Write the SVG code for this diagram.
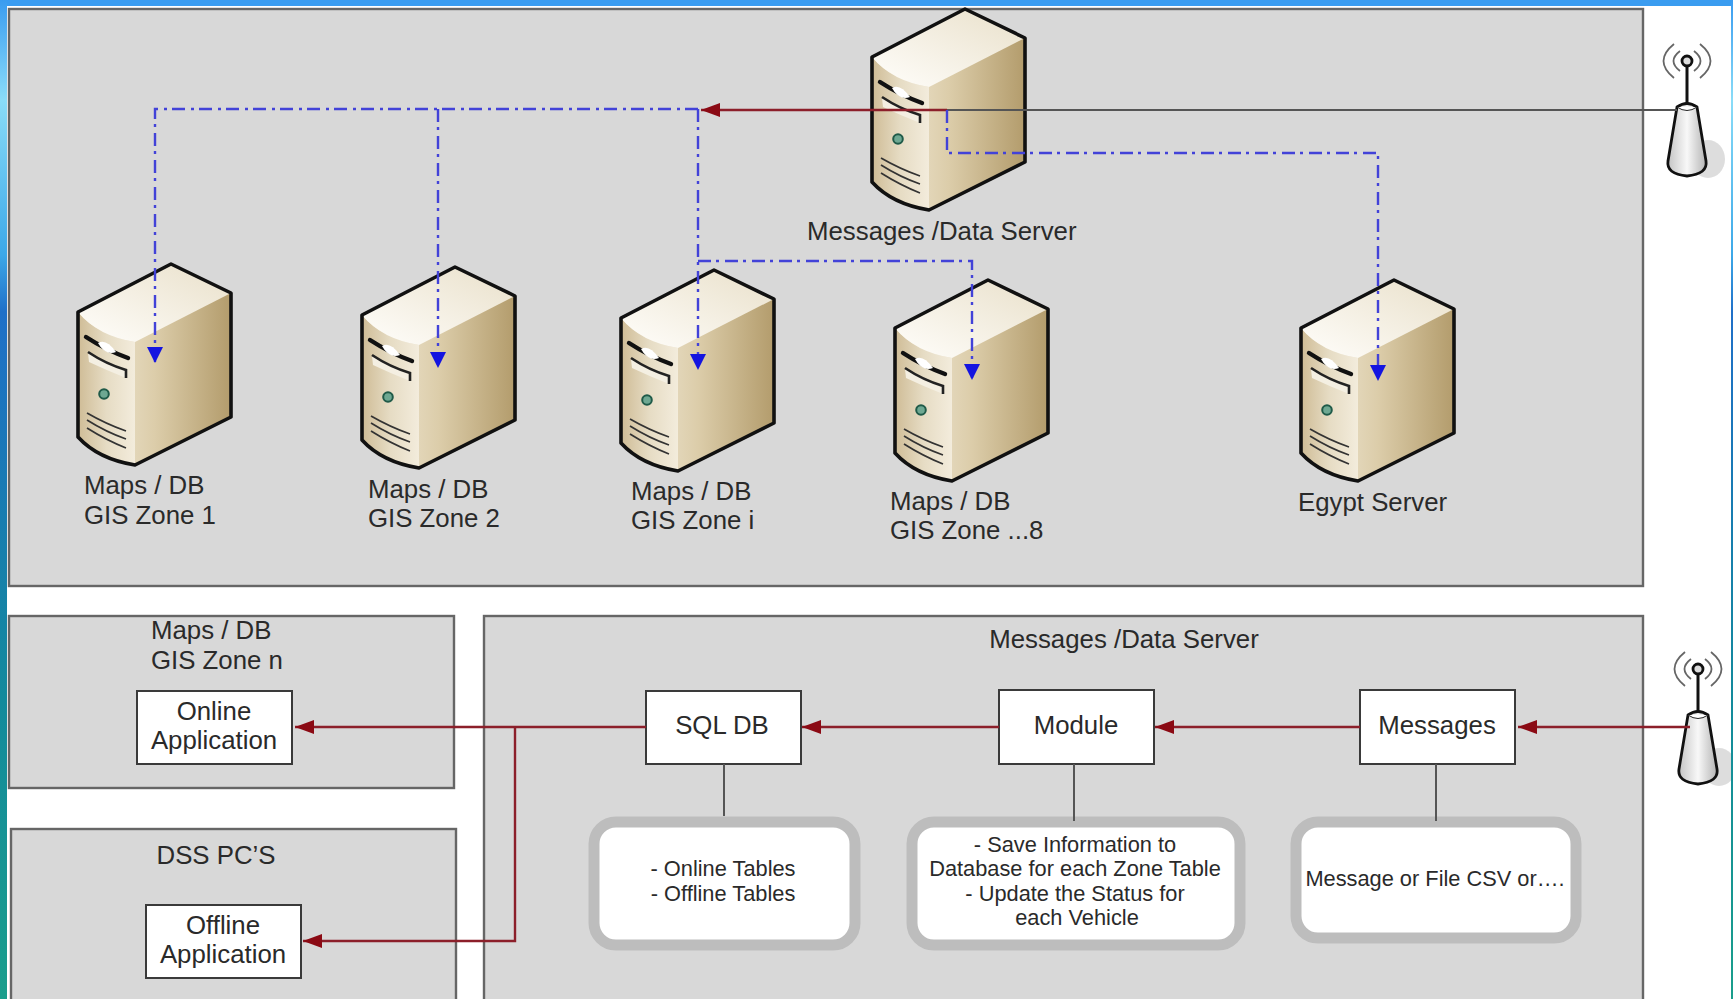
<svg xmlns="http://www.w3.org/2000/svg" xmlns:xlink="http://www.w3.org/1999/xlink" width="1733" height="999" viewBox="0 0 1733 999">
<style>
text{font-family:"Liberation Sans",Arial,sans-serif;fill:#2a2a2a}
.l{font-size:25.8px}.c{text-anchor:middle}.s{font-size:21.8px}
.panel{fill:#d8d8d8;stroke:#666;stroke-width:2.4}
.box{fill:#fff;stroke:#3a3a3a;stroke-width:2}
.note{fill:#fff;stroke:#bdbdbd;stroke-width:11}
.red{fill:none;stroke:#8c1f2a;stroke-width:2.4}
.blue{fill:none;stroke:#4242d8;stroke-width:2.4;stroke-dasharray:13 5 3 6}
.grey{fill:none;stroke:#555;stroke-width:2}
</style>
<defs>
<linearGradient id="bg" x1="0" y1="0" x2="0" y2="1"><stop offset="0" stop-color="#3a9cf0"/><stop offset=".1" stop-color="#8adcf8"/><stop offset=".255" stop-color="#3ca8e8"/><stop offset=".312" stop-color="#2070c8"/><stop offset=".45" stop-color="#1a78b8"/><stop offset=".7" stop-color="#138a9c"/><stop offset="1" stop-color="#1a9e8c"/></linearGradient>
<linearGradient id="side" x1="0" y1="0" x2="1" y2="0"><stop offset="0" stop-color="#f4eee0"/><stop offset=".5" stop-color="#dccdaa"/><stop offset="1" stop-color="#b39c6c"/></linearGradient>
<linearGradient id="front" x1="0" y1="0" x2="1" y2="0"><stop offset="0" stop-color="#cfbc96"/><stop offset=".5" stop-color="#e6dcc4"/><stop offset="1" stop-color="#f3ecdc"/></linearGradient>
<linearGradient id="top" x1="0" y1="1" x2="1" y2="0"><stop offset="0" stop-color="#fffefb"/><stop offset="1" stop-color="#e9e0ca"/></linearGradient>
<linearGradient id="ant" x1="0" y1="0" x2="1" y2="0"><stop offset="0" stop-color="#c4c4c4"/><stop offset=".5" stop-color="#f8f8f8"/><stop offset="1" stop-color="#b4b4b4"/></linearGradient>
<marker id="ar" markerUnits="userSpaceOnUse" markerWidth="20" markerHeight="16" refX="19" refY="7" orient="auto"><path d="M0 0L19 7L0 14Z" fill="#8b0a14"/></marker>
<marker id="ab" markerUnits="userSpaceOnUse" markerWidth="18" markerHeight="18" refX="16" refY="8" orient="auto"><path d="M0 0L16 8L0 16Z" fill="#1414e0"/></marker>
<g id="srv">
<path d="M0 0L93-48L153-19L153 105L57 153Q20 147 0 125Z" fill="url(#side)"/>
<path d="M0 0Q20 24 57 30V153Q20 147 0 125Z" fill="url(#front)"/>
<path d="M0 0L93-48L153-19L57 30Q20 24 0 0Z" fill="url(#top)"/>
<path d="M0 0L93-48L153-19L153 105L57 153Q20 147 0 125Z" fill="none" stroke="#111" stroke-width="3.6" stroke-linejoin="round"/>
<path d="M8 25Q28 38 50 46" fill="none" stroke="#111" stroke-width="4.4" stroke-linecap="round"/>
<path d="M10 41Q28 52 48 58V66Q28 58 11 50Z" fill="#f4efe2"/>
<path d="M10 40Q28 52 48 58V66" fill="none" stroke="#222" stroke-width="2.6"/>
<path d="M20 31Q28 26 38 40Q27 44 20 31Z" fill="#fff"/>
<circle cx="26" cy="82" r="4.8" fill="#6ea892" stroke="#1f5a48" stroke-width="2"/>
<path d="M9 101Q28 112 48 119M9 108Q28 120 48 127M9 116Q28 128 48 136" fill="none" stroke="#333" stroke-width="1.7"/>
</g>
<g id="antenna">
<ellipse cx="21" cy="140" rx="17" ry="19" fill="#d4d4d4" opacity=".8"/>
<path d="M-13 25Q-34 42-13 59M-7 32Q-20 42-7 52M13 25Q34 42 13 59M7 32Q20 42 7 52" fill="none" stroke="#666" stroke-width="1.8"/>
<path d="M0 47V88" stroke="#111" stroke-width="3"/>
<circle cx="0" cy="42" r="5" fill="#ddd" stroke="#111" stroke-width="2.8"/>
<path d="M-10 88Q0 81 10 88L19 142Q21 155 0 157Q-21 155-19 142Z" fill="url(#ant)" stroke="#111" stroke-width="2.8"/>
<path d="M-10 88Q0 95 10 88" fill="#fff" stroke="#222" stroke-width="1"/>
</g>
</defs>
<rect width="1733" height="999" fill="#fff"/>
<g id="panel-top"><rect class="panel" x="9" y="9" width="1634" height="577"/></g>
<g id="panel-maps"><rect class="panel" x="9" y="616" width="445" height="172"/>
<text class="l" x="151" y="639">Maps / DB</text><text class="l" x="151" y="669">GIS Zone n</text></g>
<g id="panel-dss"><rect class="panel" x="11" y="829" width="445" height="180"/>
<text class="l c" x="216" y="864">DSS PC’S</text></g>
<g id="panel-server"><rect class="panel" x="484" y="616" width="1159" height="393"/>
<text class="l c" x="1124" y="648">Messages /Data Server</text></g>
<g id="server-main"><use xlink:href="#srv" href="#srv" x="872" y="57"/><text class="l" x="807" y="240">Messages /Data Server</text></g>
<g id="server-1"><use xlink:href="#srv" href="#srv" x="78" y="312"/><text class="l" x="84" y="494">Maps / DB</text><text class="l" x="84" y="524">GIS Zone 1</text></g>
<g id="server-2"><use xlink:href="#srv" href="#srv" x="362" y="315"/><text class="l" x="368" y="498">Maps / DB</text><text class="l" x="368" y="527">GIS Zone 2</text></g>
<g id="server-i"><use xlink:href="#srv" href="#srv" x="621" y="318"/><text class="l" x="631" y="500">Maps / DB</text><text class="l" x="631" y="529">GIS Zone i</text></g>
<g id="server-8"><use xlink:href="#srv" href="#srv" x="895" y="328"/><text class="l" x="890" y="510">Maps / DB</text><text class="l" x="890" y="539">GIS Zone ...8</text></g>
<g id="server-egypt"><use xlink:href="#srv" href="#srv" x="1301" y="328"/><text class="l" x="1298" y="511">Egypt Server</text></g>
<g id="antenna-top"><use xlink:href="#antenna" href="#antenna" x="1687" y="19"/></g>
<g id="antenna-bottom"><use xlink:href="#antenna" href="#antenna" x="1698" y="627"/></g>
<rect width="1733" height="6" fill="#3a9cf0"/>
<rect width="7" height="999" fill="url(#bg)"/>
<rect x="1731" width="2" height="999" fill="url(#bg)"/>
<g id="online"><rect class="box" x="137" y="691" width="155" height="73"/><text class="l c" x="214" y="720">Online</text><text class="l c" x="214" y="749">Application</text></g>
<g id="offline"><rect class="box" x="146" y="905" width="155" height="73"/><text class="l c" x="223" y="934">Offline</text><text class="l c" x="223" y="963">Application</text></g>
<g id="sql"><rect class="box" x="646" y="691" width="155" height="73"/><text class="l c" x="722" y="734">SQL DB</text></g>
<g id="module"><rect class="box" x="999" y="690" width="155" height="74"/><text class="l c" x="1076" y="734">Module</text></g>
<g id="messages"><rect class="box" x="1360" y="690" width="155" height="74"/><text class="l c" x="1437" y="734">Messages</text></g>
<g id="note-sql"><rect class="note" x="594" y="822" width="261" height="123" rx="22"/><text class="s c" x="723" y="876">- Online Tables</text><text class="s c" x="723" y="901">- Offline Tables</text></g>
<g id="note-module"><rect class="note" x="912" y="822" width="328" height="123" rx="22"/>
<text class="s c" x="1075" y="852">- Save Information to</text><text class="s c" x="1075" y="876">Database for each Zone Table</text><text class="s c" x="1075" y="901">- Update the Status for</text><text class="s c" x="1077" y="925">each Vehicle</text></g>
<g id="note-messages"><rect class="note" x="1296" y="822" width="280" height="116" rx="22"/><text class="s c" x="1435" y="886">Message or File CSV or….</text></g>
<g id="connectors">
<path class="grey" d="M1677 110H947"/>
<path class="red" d="M947 110H701" marker-end="url(#ar)"/>
<path class="blue" d="M698 109H155V363" marker-end="url(#ab)"/>
<path class="blue" d="M438 109V368" marker-end="url(#ab)"/>
<path class="blue" d="M698 109V370" marker-end="url(#ab)"/>
<path class="blue" d="M698 261H972V380" marker-end="url(#ab)"/>
<path class="blue" d="M947 110V153H1378V381" marker-end="url(#ab)"/>
<path class="red" d="M646 727H295" marker-end="url(#ar)"/>
<path class="red" d="M515 727V941H303" marker-end="url(#ar)"/>
<path class="red" d="M999 727H802" marker-end="url(#ar)"/>
<path class="red" d="M1360 727H1155" marker-end="url(#ar)"/>
<path class="red" d="M1690 727H1518" marker-end="url(#ar)"/>
<path class="grey" d="M724 764V816M1074 764V821M1436 764V821"/>
</g>
</svg>
